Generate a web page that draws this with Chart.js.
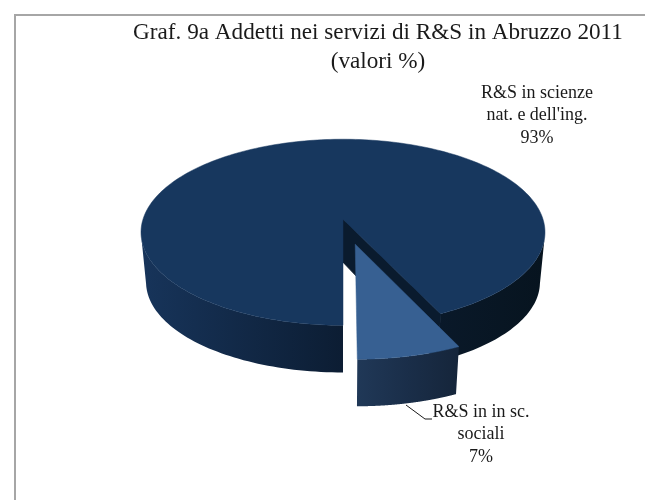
<!DOCTYPE html>
<html>
<head>
    <title>Graf. 9a Addetti nei servizi di R&amp;S in Abruzzo 2011</title>
    <script src="https://cdn.jsdelivr.net/npm/chart.js"></script>
    <style>
        html, body { margin: 0; padding: 0; background: #fff; overflow: hidden; }
        #page { position: relative; width: 645px; height: 500px; overflow: hidden; }
        #frame {
            position: absolute; left: 14px; top: 14px; width: 700px; height: 600px;
            border-left: 2px solid #a6a6a6; border-top: 2px solid #a6a6a6;
        }
        canvas { position: absolute; left: 0; top: 0; }
    </style>
</head>
<body>
    <div id="page">
        <div id="frame"></div>
        <canvas id="myChart" width="756" height="500"></canvas>
    </div>

    <script>
        const titleLines = ['Graf. 9a Addetti nei servizi di R&S in Abruzzo 2011', '(valori %)'];
        const categories = ["R&S in scienze nat. e dell'ing.", 'R&S in in sc. sociali'];
        const values = [93, 7];
        const labelLines = [["R&S in scienze", "nat. e dell'ing."], ['R&S in in sc.', 'sociali']];
        const topColors = ['#17375e', '#376092'];
        const wallColors = [['#17345a', '#0c1d33', '#07141f'], ['#203857', '#1a2e49', '#15253a']];
        const notchColor = '#0a1b2e';

        // prospettiva della torta: il disco (u, v) viene proiettato sullo schermo
        const squash = 0.456;
        const persp = -0.14;
        const shiftX = -35; // il titolo e' centrato piu' a destra della torta

        function project(el, u, v, low) {
            const w = 1 + persp * v;
            const x = u * el.outerRadius / w;
            const y = v * el.outerRadius * squash / w;
            if (!low) return { x: el.x + shiftX + x, y: el.y + y };
            // spessore: piu' alto ai lati che davanti, come nell'originale
            const r = Math.hypot(u, v);
            const depth = 43 + r * (7 - 0.03 * (y - 13));
            return { x: el.x + shiftX + x * 0.975, y: el.y + y + depth };
        }

        function explode(el) {
            const mid = (el.startAngle + el.endAngle) / 2;
            const off = (el.options.offset || 0) / 4 / el.outerRadius;
            return { u: Math.cos(mid) * off, v: Math.sin(mid) * off };
        }

        function rimPoint(el, a, low) {
            const e = explode(el);
            return project(el, e.u + Math.cos(a), e.v + Math.sin(a), low);
        }

        function tracePoints(ctx, pts) {
            ctx.beginPath();
            pts.forEach((p, i) => i ? ctx.lineTo(p.x, p.y) : ctx.moveTo(p.x, p.y));
            ctx.closePath();
        }

        function arcAngles(el) {
            const out = [];
            for (let i = 0; i <= 240; i++) out.push(el.startAngle + (el.endAngle - el.startAngle) * i / 240);
            return out;
        }

        function drawWalls(ctx, el, colors) {
            // solo la parte anteriore del bordo e' visibile, dai due estremi in giu'
            let run = [];
            const runs = [];
            arcAngles(el).forEach(a => {
                if (Math.sin(a) > -persp) run.push(a);
                else if (run.length) { runs.push(run); run = []; }
            });
            if (run.length) runs.push(run);
            const exploded = el.options.offset > 0;
            const l = rimPoint(el, exploded ? el.startAngle : Math.PI).x;
            const r = rimPoint(el, exploded ? el.endAngle : 0).x;
            const grad = ctx.createLinearGradient(Math.min(l, r), 0, Math.max(l, r), 0);
            colors.forEach((c, i) => grad.addColorStop(i / 2, c));
            ctx.fillStyle = grad;
            runs.forEach(run2 => {
                const top = run2.map(a => rimPoint(el, a, false));
                const low = run2.map(a => rimPoint(el, a, true)).reverse();
                tracePoints(ctx, top.concat(low));
                ctx.fill();
            });
        }

        function drawTop(ctx, el, color) {
            const e = explode(el);
            const pts = [project(el, e.u, e.v, false)].concat(arcAngles(el).map(a => rimPoint(el, a, false)));
            tracePoints(ctx, pts);
            ctx.fillStyle = color;
            ctx.fill();
            ctx.strokeStyle = color;
            ctx.lineWidth = 0.5;
            ctx.stroke();
        }

        function drawNotch(ctx, el, color) {
            const e = explode(el);
            const a = el.endAngle;
            tracePoints(ctx, [
                project(el, e.u, e.v, false), rimPoint(el, a, false),
                rimPoint(el, a, true), project(el, e.u, e.v, true)
            ]);
            ctx.fillStyle = color;
            ctx.fill();
            ctx.strokeStyle = color;
            ctx.lineWidth = 1;
            ctx.stroke();
        }

        const pie3d = {
            id: 'pie3d',
            beforeDatasetsDraw(chart) {
                const ctx = chart.ctx;
                const arcs = chart.getDatasetMeta(0).data;
                ctx.save();
                drawWalls(ctx, arcs[0], wallColors[0]);
                drawNotch(ctx, arcs[0], notchColor);
                drawTop(ctx, arcs[0], topColors[0]);
                drawWalls(ctx, arcs[1], wallColors[1]);
                drawTop(ctx, arcs[1], topColors[1]);
                ctx.restore();
                return false;
            }
        };

        const pieLabels = {
            id: 'pieLabels',
            afterDraw(chart) {
                const ctx = chart.ctx;
                ctx.save();
                ctx.font = '18px "Liberation Serif"';
                ctx.fillStyle = '#1a1a1a';
                ctx.textAlign = 'center';
                ctx.textBaseline = 'middle';
                const places = [{ x: 537, y: 93 }, { x: 481, y: 412 }];
                values.forEach((v, i) => {
                    const lines = labelLines[i].concat(v + '%');
                    lines.forEach((t, j) => ctx.fillText(t, places[i].x, places[i].y + j * 22.5));
                });
                // linea guida dell'etichetta piccola
                ctx.strokeStyle = '#1a1a1a';
                ctx.lineWidth = 1;
                ctx.beginPath();
                ctx.moveTo(406, 405);
                ctx.lineTo(425, 419);
                ctx.lineTo(432, 419);
                ctx.stroke();
                ctx.restore();
            }
        };

        new Chart(document.getElementById('myChart').getContext('2d'), {
            type: 'pie',
            data: {
                labels: categories,
                datasets: [{
                    data: values,
                    backgroundColor: topColors,
                    offset: [0, 216],
                    radius: 200,
                    borderWidth: 0
                }]
            },
            options: {
                responsive: false,
                animation: false,
                rotation: 180,
                layout: { padding: { bottom: 138 } },
                plugins: {
                    legend: { display: false },
                    tooltip: { enabled: false },
                    title: {
                        display: true,
                        text: titleLines,
                        color: '#1a1a1a',
                        font: { family: '"Liberation Serif"', size: 23.2, weight: 'normal', lineHeight: 1.26 },
                        padding: { top: 18, bottom: 0 }
                    }
                }
            },
            plugins: [pie3d, pieLabels]
        });
    </script>
</body>
</html>
